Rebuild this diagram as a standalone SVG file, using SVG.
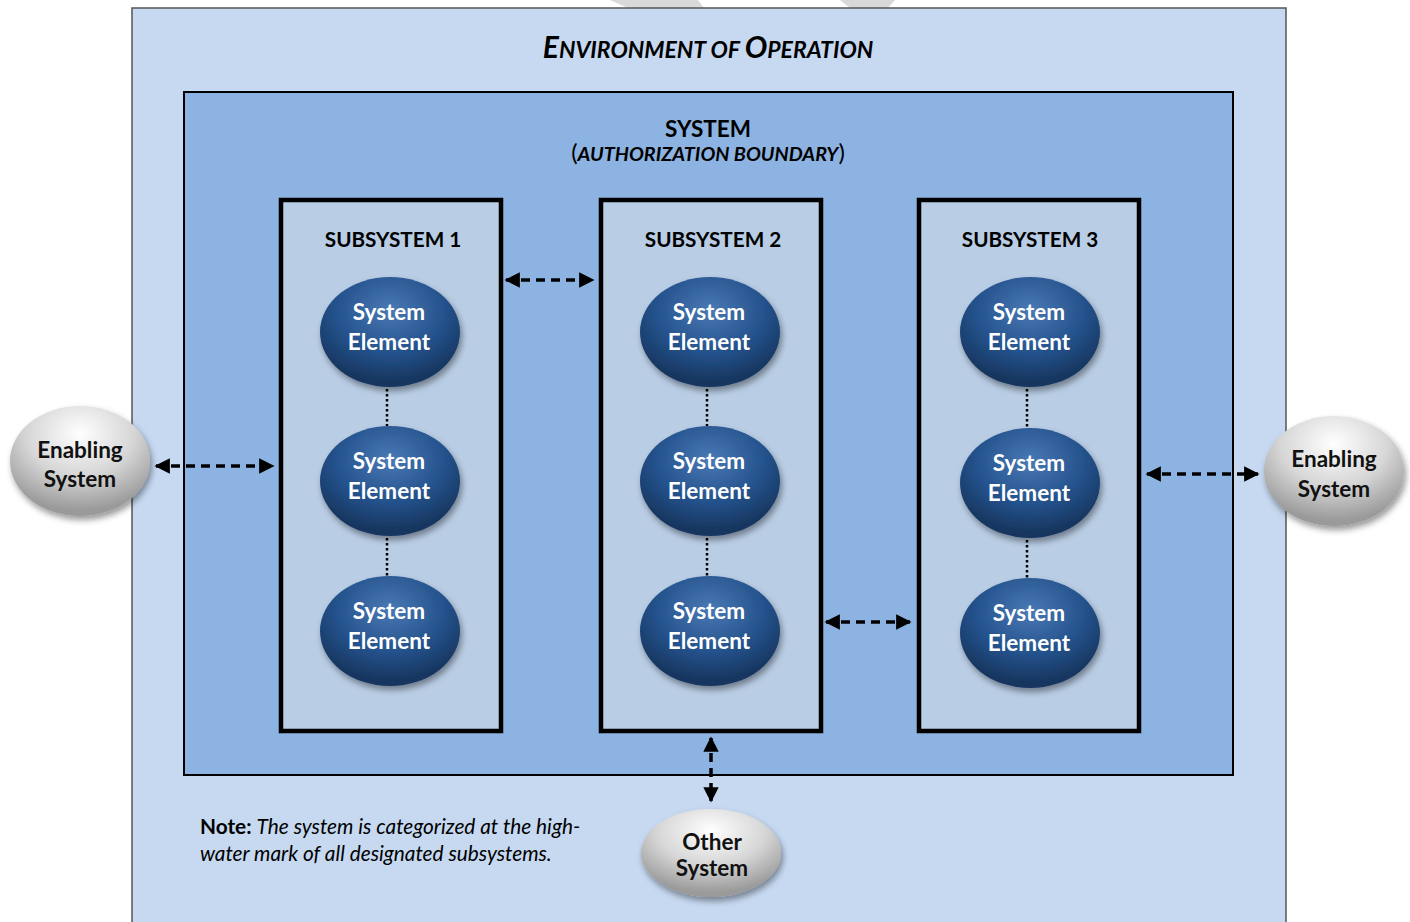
<svg xmlns="http://www.w3.org/2000/svg" width="1410" height="922" viewBox="0 0 1410 922">
<style>
text{font-family:Lato,"Open Sans","Liberation Sans",sans-serif;font-weight:bold}
.el{font-size:22.5px;fill:#fff;text-anchor:middle}
.gl{font-size:22.5px;fill:#111;text-anchor:middle}
.sub{font-size:20.7px;fill:#000;text-anchor:middle}
.it{font-weight:normal;font-style:italic}
.conn{fill:none;stroke:#000;stroke-width:3.5;stroke-dasharray:9 6;marker-start:url(#ah);marker-end:url(#ah)}
.dot{fill:none;stroke:#000;stroke-width:2.5;stroke-dasharray:2.5 2.5}
.ss{fill:#B9CDE5;stroke:#000;stroke-width:4.5}
</style>
<defs>
<radialGradient id="blue" cx="0.5" cy="0.3" r="0.65">
<stop offset="0" stop-color="#4A79B5"/>
<stop offset="0.6" stop-color="#24528C"/>
<stop offset="1" stop-color="#17365F"/>
</radialGradient>
<radialGradient id="gray" cx="0.5" cy="0.25" r="0.7">
<stop offset="0" stop-color="#FFFFFF"/>
<stop offset="0.55" stop-color="#D6D6D6"/>
<stop offset="1" stop-color="#9A9A9A"/>
</radialGradient>
<filter id="sh" x="-20%" y="-20%" width="150%" height="150%">
<feDropShadow dx="2" dy="4" stdDeviation="3" flood-color="#000" flood-opacity="0.4"/>
</filter>
<marker id="ah" viewBox="0 0 10 10" refX="9" refY="5" markerWidth="4.4" markerHeight="4.4" orient="auto-start-reverse" markerUnits="strokeWidth">
<path d="M0,0 L10,5 L0,10 Z" fill="#000"/>
</marker>
</defs>
<rect width="1410" height="922" fill="#fff"/>
<g id="watermark" fill="#D9D9D9">
<polygon points="610,0 698,0 704,8 628,8"/>
<polygon points="840,0 895,0 888,8 850,8"/>
</g>
<g id="environment">
<rect x="132" y="8" width="1154" height="930" fill="#C6D9F1" stroke="#555" stroke-width="1.5"/>
<text x="708" y="58" text-anchor="middle" font-style="italic" font-size="23" fill="#000"><tspan font-size="30">E</tspan>NVIRONMENT OF <tspan font-size="30">O</tspan>PERATION</text>
</g>
<g id="system">
<rect x="184" y="92" width="1049" height="683" fill="#8DB3E2" stroke="#000" stroke-width="2"/>
<text x="708" y="137" text-anchor="middle" font-size="22.5" fill="#000">SYSTEM</text>
<text x="708" y="161" text-anchor="middle" font-size="19.8" fill="#000"><tspan font-weight="normal" font-size="24">(</tspan><tspan font-style="italic">AUTHORIZATION BOUNDARY</tspan><tspan font-weight="normal" font-size="24">)</tspan></text>
</g>
<g id="subsystem1">
<rect x="281" y="200" width="220" height="531" class="ss"/>
<text x="393" y="247" class="sub">SUBSYSTEM 1</text>
</g>
<g id="subsystem2">
<rect x="601" y="200" width="220" height="531" class="ss"/>
<text x="713" y="247" class="sub">SUBSYSTEM 2</text>
</g>
<g id="subsystem3">
<rect x="919" y="200" width="220" height="531" class="ss"/>
<text x="1030" y="247" class="sub">SUBSYSTEM 3</text>
</g>
<g id="connectors">
<line x1="387" y1="389" x2="387" y2="426" class="dot"/>
<line x1="387" y1="538" x2="387" y2="576" class="dot"/>
<line x1="707" y1="389" x2="707" y2="426" class="dot"/>
<line x1="707" y1="538" x2="707" y2="576" class="dot"/>
<line x1="1027" y1="389" x2="1027" y2="428" class="dot"/>
<line x1="1027" y1="540" x2="1027" y2="578" class="dot"/>
<line x1="156" y1="466" x2="273" y2="466" class="conn"/>
<line x1="506" y1="280" x2="593" y2="280" class="conn"/>
<line x1="1147" y1="474" x2="1258" y2="474" class="conn"/>
<line x1="826" y1="622" x2="910" y2="622" class="conn"/>
<line x1="711" y1="738" x2="711" y2="801" class="conn"/>
</g>
<g id="se1a"><ellipse cx="390" cy="332" rx="70" ry="55" fill="url(#blue)" filter="url(#sh)"/><text class="el" x="389" y="320">System</text><text class="el" x="389" y="350">Element</text></g>
<g id="se1b"><ellipse cx="390" cy="481" rx="70" ry="55" fill="url(#blue)" filter="url(#sh)"/><text class="el" x="389" y="469">System</text><text class="el" x="389" y="499">Element</text></g>
<g id="se1c"><ellipse cx="390" cy="631" rx="70" ry="55" fill="url(#blue)" filter="url(#sh)"/><text class="el" x="389" y="619">System</text><text class="el" x="389" y="649">Element</text></g>
<g id="se2a"><ellipse cx="710" cy="332" rx="70" ry="55" fill="url(#blue)" filter="url(#sh)"/><text class="el" x="709" y="320">System</text><text class="el" x="709" y="350">Element</text></g>
<g id="se2b"><ellipse cx="710" cy="481" rx="70" ry="55" fill="url(#blue)" filter="url(#sh)"/><text class="el" x="709" y="469">System</text><text class="el" x="709" y="499">Element</text></g>
<g id="se2c"><ellipse cx="710" cy="631" rx="70" ry="55" fill="url(#blue)" filter="url(#sh)"/><text class="el" x="709" y="619">System</text><text class="el" x="709" y="649">Element</text></g>
<g id="se3a"><ellipse cx="1030" cy="332" rx="70" ry="55" fill="url(#blue)" filter="url(#sh)"/><text class="el" x="1029" y="320">System</text><text class="el" x="1029" y="350">Element</text></g>
<g id="se3b"><ellipse cx="1030" cy="483" rx="70" ry="55" fill="url(#blue)" filter="url(#sh)"/><text class="el" x="1029" y="471">System</text><text class="el" x="1029" y="501">Element</text></g>
<g id="se3c"><ellipse cx="1030" cy="633" rx="70" ry="55" fill="url(#blue)" filter="url(#sh)"/><text class="el" x="1029" y="621">System</text><text class="el" x="1029" y="651">Element</text></g>
<g id="enabling-left"><ellipse cx="80" cy="461" rx="70" ry="55" fill="url(#gray)" filter="url(#sh)"/><text class="gl" x="80" y="458">Enabling</text><text class="gl" x="80" y="487">System</text></g>
<g id="enabling-right"><ellipse cx="1334" cy="471" rx="70" ry="55" fill="url(#gray)" filter="url(#sh)"/><text class="gl" x="1334" y="467">Enabling</text><text class="gl" x="1334" y="497">System</text></g>
<g id="other-system"><ellipse cx="711" cy="853" rx="70" ry="44" fill="url(#gray)" filter="url(#sh)"/><text class="gl" x="712" y="850">Other</text><text class="gl" x="712" y="876">System</text></g>
<g id="note">
<text x="200" y="834" font-size="20.8" fill="#000">Note: <tspan class="it">The system is categorized at the high-</tspan></text>
<text x="200" y="861" font-size="20.8" fill="#000"><tspan class="it">water mark of all designated subsystems.</tspan></text>
</g>
</svg>
